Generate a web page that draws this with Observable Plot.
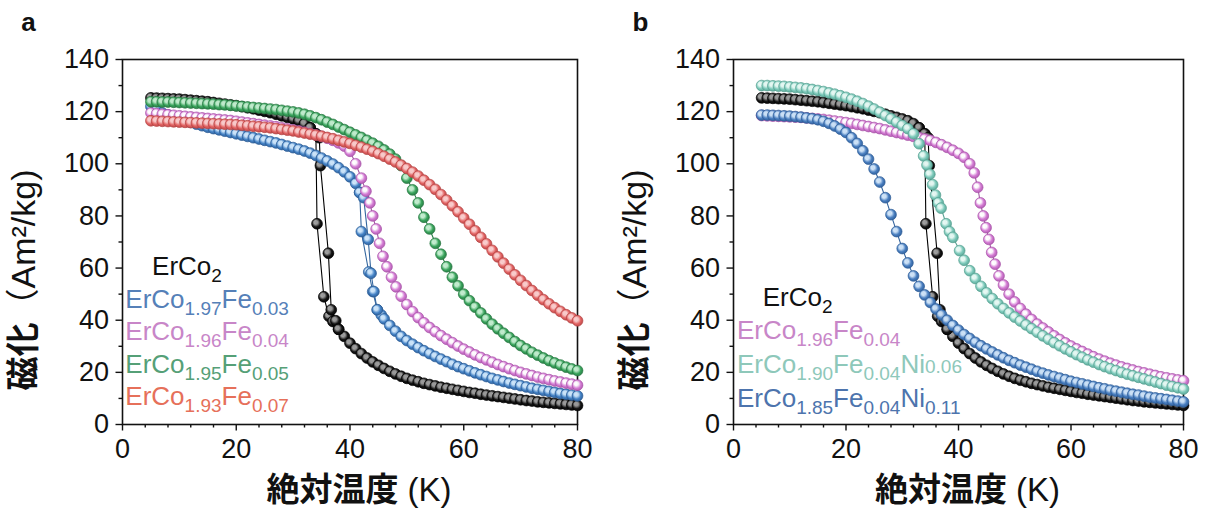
<!DOCTYPE html>
<html>
<head>
<meta charset="utf-8">
<script src="https://cdn.jsdelivr.net/npm/d3@7"></script>
<script src="https://cdn.jsdelivr.net/npm/@observablehq/plot@0.6"></script>
<style>
  html, body { margin: 0; padding: 0; background: #fff; }
  #wrap { position: relative; width: 1211px; height: 509px; overflow: hidden; }
  .panel { position: absolute; top: 0; }
</style>
</head>
<body>
<svg width="0" height="0" style="position:absolute">
  <defs id="grads"></defs>
</svg>
<div id="wrap">
  <div class="panel" id="pa" style="left:0px"></div>
  <div class="panel" id="pb" style="left:604px"></div>
</div>
<script>
// ---------------- data (temperature K, magnetization Am2/kg) ----------------
const xMajor = [0, 20, 40, 60, 80];
const xMinor = [4, 8, 12, 16, 24, 28, 32, 36, 44, 48, 52, 56, 64, 68, 72, 76];
const yMajor = [0, 20, 40, 60, 80, 100, 120, 140];
const yMinor = [10, 30, 50, 70, 90, 110, 130];

const erco2Main = [[5,125.3],[6,125.2],[7,125.1],[8,125.0],[9,124.9],[10,124.8],[11,124.6],[12,124.4],[13,124.2],[14,124.0],[15,123.8],[16,123.5],[17,123.2],[18,122.9],[19,122.6],[20,122.3],[21,121.9],[22,121.5],[23,121.1],[24,120.6],[25,120.1],[26,119.6],[27,119.0],[28,118.4],[29,117.8],[30,117.2],[31,116.5],[32,115.4],[33,113.8],[34,111.5],[34.2,77],[35.4,49],[36.3,41.5],[37,39.5],[38,36.5],[39,33.8],[40,31.2],[41,29.1],[42,27.2],[43,25.5],[44,24],[45,22.7],[46,21.5],[47,20.4],[48,19.4],[49,18.5],[50,17.7],[51,17],[52,16.4],[53,15.8],[54,15.3],[55,14.8],[56,14.3],[57,13.9],[58,13.5],[59,13.1],[60,12.7],[61,12.3],[62,12],[63,11.6],[64,11.3],[65,11],[66,10.7],[67,10.4],[68,10.1],[69,9.8],[70,9.5],[71,9.2],[72,9],[73,8.7],[74,8.5],[75,8.3],[76,8.1],[77,7.9],[78,7.7],[79,7.5],[80,7.3]];
const erco2Warm = [[33,113.8],[34,111.5],[34.6,110],[34.8,99.3],[36.2,65.7],[36.7,44],[37.5,39.8],[38,36.5]];

const fe003Main = [[5,122],[6,120.5],[7,119.5],[8,118.7],[9,118],[10,117.3],[11,116.6],[12,115.9],[13,115.2],[14,114.6],[15,114],[16,113.5],[17,113],[18,112.5],[19,112],[20,111.5],[21,111],[22,110.5],[23,110],[24,109.5],[25,109],[26,108.5],[27,108],[28,107.4],[29,106.8],[30,106.2],[31,105.6],[32,104.9],[33,104.1],[34,103.2],[35,102.2],[36,101.1],[37,99.9],[38,98.5],[39,96.9],[40,95],[41,92.5],[41.7,89],[42,74],[43.3,58.5],[44,51],[44.8,44],[45.5,42],[46,40.5],[47,38],[48,35.8],[49,33.8],[50,32.2],[51,30.8],[52,29.5],[53,28.3],[54,27.2],[55,26.1],[56,25.1],[57,24.1],[58,23.1],[59,22.2],[60,21.4],[61,20.6],[62,19.8],[63,19.1],[64,18.4],[65,17.7],[66,17.1],[67,16.5],[68,15.9],[69,15.4],[70,14.9],[71,14.4],[72,13.9],[73,13.5],[74,13.1],[75,12.7],[76,12.3],[77,11.9],[78,11.6],[79,11.3],[80,11]];
const fe003Warm = [[41.7,89],[42.4,87],[43.2,71],[43.7,58],[44.2,51],[44.8,44]];

const fe004A = [[5,119.5],[6,119.2],[7,119],[8,118.8],[9,118.6],[10,118.4],[11,118.2],[12,118],[13,117.8],[14,117.6],[15,117.4],[16,117.2],[17,117],[18,116.8],[19,116.6],[20,116.3],[21,116],[22,115.7],[23,115.4],[24,115.1],[25,114.8],[26,114.5],[27,114.2],[28,113.8],[29,113.4],[30,113],[31,112.6],[32,112.1],[33,111.6],[34,111.1],[35,110.5],[36,109.8],[37,109],[38,108],[39,106.8],[40,104.8],[41,100],[42,94.5],[42.8,89.5],[43.5,85],[44,80],[44.6,75],[45.2,69.5],[45.8,64.5],[46.5,60.5],[47.3,56.5],[48.1,52.8],[49,49.2],[50,46],[51,43.3],[52,41],[53,39],[54,37.2],[55,35.6],[56,34.1],[57,32.7],[58,31.4],[59,30.1],[60,28.9],[61,27.8],[62,26.7],[63,25.7],[64,24.8],[65,23.9],[66,23],[67,22.2],[68,21.4],[69,20.7],[70,20],[71,19.4],[72,18.8],[73,18.2],[74,17.7],[75,17.2],[76,16.7],[77,16.3],[78,15.9],[79,15.5],[80,15.1]];

const fe005 = [[5,123.8],[6,123.8],[7,123.7],[8,123.7],[9,123.6],[10,123.5],[11,123.4],[12,123.3],[13,123.2],[14,123.1],[15,123],[16,122.9],[17,122.7],[18,122.6],[19,122.4],[20,122.2],[21,122],[22,121.8],[23,121.6],[24,121.4],[25,121.2],[26,121],[27,120.8],[28,120.5],[29,120.2],[30,119.9],[31,119.5],[32,119],[33,118.4],[34,117.7],[35,116.9],[36,116],[37,115.1],[38,114.1],[39,113.1],[40,112.1],[41,111.1],[42,110.1],[43,109],[44,107.9],[45,106.7],[46,105.3],[47,103.7],[48,101.8],[49,99.3],[50,94.5],[51,90],[52,85],[53,79.5],[54,75],[55,69.5],[56,65.3],[57,60.5],[58,56.5],[59,53.2],[60,50],[61,47.5],[62,45],[63,42.8],[64,40.5],[65,38.5],[66,36.7],[67,35],[68,33.4],[69,31.8],[70,30.3],[71,29],[72,27.7],[73,26.6],[74,25.5],[75,24.5],[76,23.6],[77,22.8],[78,22],[79,21.3],[80,20.7]];

const fe007 = [[5,116.5],[6,116.4],[7,116.3],[8,116.2],[9,116.1],[10,116],[11,115.9],[12,115.8],[13,115.7],[14,115.6],[15,115.5],[16,115.4],[17,115.3],[18,115.2],[19,115.1],[20,115],[21,114.8],[22,114.6],[23,114.4],[24,114.2],[25,114],[26,113.8],[27,113.5],[28,113.2],[29,112.9],[30,112.6],[31,112.2],[32,111.8],[33,111.4],[34,111],[35,110.6],[36,110.1],[37,109.6],[38,109],[39,108.4],[40,107.8],[41,107.1],[42,106.4],[43,105.6],[44,104.8],[45,103.9],[46,102.9],[47,101.8],[48,100.7],[49,99.5],[50,98.2],[51,96.8],[52,95.3],[53,93.7],[54,92],[55,90.2],[56,88.2],[57,86.1],[58,83.9],[59,81.6],[60,79.2],[61,76.8],[62,74.3],[63,71.8],[64,69.3],[65,66.8],[66,64.3],[67,61.9],[68,59.6],[69,57.4],[70,55.3],[71,53.3],[72,51.4],[73,49.6],[74,47.9],[75,46.3],[76,44.8],[77,43.4],[78,42.1],[79,40.9],[80,39.8]];

const fe004B = [[5,118.5],[6,118.4],[7,118.3],[8,118.2],[9,118.1],[10,118],[11,117.9],[12,117.8],[13,117.6],[14,117.4],[15,117.2],[16,117],[17,116.7],[18,116.4],[19,116.1],[20,115.8],[21,115.5],[22,115.1],[23,114.7],[24,114.3],[25,113.9],[26,113.5],[27,113],[28,112.5],[29,112],[30,111.5],[31,111],[32,110.5],[33,110],[34,109.5],[35,109],[36,108.2],[37,107.3],[38,106.3],[39,105.2],[40,104],[41,102.5],[42,100],[42.8,96.5],[43.4,91],[43.9,85],[44.4,80],[44.9,75.5],[45.4,71],[45.9,66],[46.5,61.5],[47.2,57],[48,53.5],[49,50],[50,47],[51,44.5],[52,42.3],[53,40.3],[54,38.5],[55,37],[56,35.5],[57,34],[58,32.6],[59,31.3],[60,30.1],[61,29],[62,28],[63,27],[64,26],[65,25.1],[66,24.3],[67,23.5],[68,22.8],[69,22.1],[70,21.5],[71,20.9],[72,20.3],[73,19.8],[74,19.3],[75,18.8],[76,18.3],[77,17.9],[78,17.5],[79,17.1],[80,16.8]];

const ni006 = [[5,130],[6,130],[7,129.9],[8,129.8],[9,129.7],[10,129.5],[11,129.3],[12,129.1],[13,128.8],[14,128.5],[15,128.1],[16,127.7],[17,127.2],[18,126.7],[19,126.1],[20,125.5],[21,124.8],[22,124],[23,123.1],[24,122.1],[25,121],[26,119.8],[27,118.5],[28,117.3],[29,116],[30,114.7],[31,113.5],[32,111.5],[33,107.7],[33.8,103],[34.4,99.5],[34.9,96],[35.4,92],[35.9,88],[36.4,85],[36.9,83],[37.8,77],[38.4,74],[39,71.8],[40.2,66.7],[41,63],[42,59],[43,56],[44,53],[45,50.5],[46,48.3],[47,46.3],[48,44.5],[49,42.8],[50,41.2],[51,39.7],[52,38.2],[53,36.8],[54,35.4],[55,34],[56,32.7],[57,31.4],[58,30.2],[59,29],[60,27.9],[61,26.8],[62,25.8],[63,24.8],[64,23.9],[65,23],[66,22.2],[67,21.4],[68,20.7],[69,20],[70,19.3],[71,18.7],[72,18.1],[73,17.5],[74,16.9],[75,16.3],[76,15.7],[77,15.1],[78,14.6],[79,14.1],[80,13.6]];

const ni011 = [[5,118.7],[6,118.7],[7,118.6],[8,118.5],[9,118.4],[10,118.3],[11,118.1],[12,117.9],[13,117.6],[14,117.3],[15,116.9],[16,116.3],[17,115.5],[18,114.5],[19,113.3],[20,112],[21,110],[22,107.8],[23,105],[24,101.8],[25,98],[26,93],[27,87],[28,80.5],[29,74],[30,67.5],[31,62],[32,57],[33,53],[34,49.7],[35,46.8],[36,44.3],[37,42],[38,40],[39,38],[40,36.2],[41,34.5],[42,33],[43,31.5],[44,30.2],[45,29],[46,27.8],[47,26.7],[48,25.6],[49,24.6],[50,23.7],[51,22.8],[52,22],[53,21.2],[54,20.4],[55,19.7],[56,19],[57,18.4],[58,17.8],[59,17.2],[60,16.6],[61,16.1],[62,15.6],[63,15.1],[64,14.6],[65,14.1],[66,13.7],[67,13.2],[68,12.8],[69,12.4],[70,12],[71,11.6],[72,11.3],[73,10.9],[74,10.5],[75,10.2],[76,9.9],[77,9.6],[78,9.3],[79,9],[80,8.7]];

const legendA = ["ErCo_{2}", "ErCo_{1.97}Fe_{0.03}", "ErCo_{1.96}Fe_{0.04}", "ErCo_{1.95}Fe_{0.05}", "ErCo_{1.93}Fe_{0.07}"];
const legendB = ["ErCo_{2}", "ErCo_{1.96}Fe_{0.04}", "ErCo_{1.90}Fe_{0.04}Ni~{0.06}", "ErCo_{1.85}Fe_{0.04}Ni_{0.11}"];
const xTitle = "**絶対温度** (K)";
const yTitle = "**磁化**（Am²/kg)";

// ---------------- styles ----------------
const palette = {
  black: {base: "#161616", hi: "#9c9c9c", edge: "#000000", line: "#000000", text: "#111111"},
  blue:  {base: "#4583c6", hi: "#cde5fa", edge: "#2a5a94", line: "#35679f", text: "#5580b8"},
  pink:  {base: "#d47cd4", hi: "#ffffff", edge: "#a955a9", line: "#a458a4", text: "#c886c8"},
  green: {base: "#3aa55d", hi: "#c2ecce", edge: "#267540", line: "#2a7f47", text: "#55a077"},
  red:   {base: "#e26363", hi: "#f9cccc", edge: "#b44444", line: "#c04c4c", text: "#e6705a"},
  teal:  {base: "#7cc9ba", hi: "#e6f8f3", edge: "#56a091", line: "#5aa293", text: "#8ec8ba"},
  blue2: {base: "#4a7fc0", hi: "#cde2f7", edge: "#2c5b96", line: "#33639c", text: "#4d74ad"}
};
const defs = document.getElementById("grads");
for (const [k, c] of Object.entries(palette)) {
  defs.insertAdjacentHTML("beforeend",
    `<radialGradient id="g-${k}" cx="0.45" cy="0.45" r="0.62" fx="0.36" fy="0.34">
       <stop offset="0" stop-color="${c.hi}"/>
       <stop offset="0.28" stop-color="${c.hi}" stop-opacity="0.95"/>
       <stop offset="0.62" stop-color="${c.base}"/>
       <stop offset="1" stop-color="${c.edge}"/>
     </radialGradient>`);
}

const FONT = "'Liberation Sans', Arial, 'Noto Sans CJK JP', sans-serif";
const LEG = 26, SUB = 19, SUBDY = 7;

function seriesMarks(data, key) {
  const c = palette[key];
  return [
    Plot.line(data, {x: d => d[0], y: d => d[1], stroke: c.line, strokeWidth: 1.1}),
    Plot.dot(data, {x: d => d[0], y: d => d[1], r: 5.4, fill: `url(#g-${key})`, stroke: c.edge, strokeWidth: 0.7})
  ];
}

function rich(svg) {
  d3.select(svg).selectAll("text").each(function() {
    const s = this.textContent;
    if (!/(_\{|~\{|\*\*)/.test(s)) return;
    const parts = s.split(/(_\{[^}]*\}|~\{[^}]*\}|\*\*[^*]+\*\*)/).filter(p => p !== "");
    const el = d3.select(this);
    el.text(null);
    let cur = 0;
    for (const p of parts) {
      let txt = p, size = null, off = 0, weight = null;
      if (p.startsWith("_{")) { txt = p.slice(2, -1); size = SUB; off = SUBDY; }
      else if (p.startsWith("~{")) { txt = p.slice(2, -1); size = SUB; off = 0; }
      else if (p.startsWith("**")) { txt = p.slice(2, -2); weight = "bold"; }
      const t = el.append("tspan").text(txt);
      if (size) t.attr("font-size", size);
      if (weight) t.attr("font-weight", weight);
      if (off !== cur) { t.attr("dy", off - cur); cur = off; }
    }
  });
}

function panel(opts) {
  const svg = Plot.plot({
    width: 607, height: 509,
    marginLeft: opts.ml, marginRight: opts.mr, marginTop: 59, marginBottom: 85,
    x: {domain: [0, 80]},
    y: {domain: [0, 140]},
    style: {fontFamily: FONT, fontSize: "27px", color: "#111", background: "transparent", overflow: "visible"},
    marks: [
      Plot.axisX({ticks: xMinor, tickSize: 3.5, tickFormat: () => "", label: null, strokeWidth: 1.4}),
      Plot.axisY({ticks: yMinor, tickSize: 3.5, tickFormat: () => "", label: null, strokeWidth: 1.4}),
      Plot.axisX({ticks: xMajor, tickSize: 6.5, tickPadding: 8, fontSize: 27, label: null, strokeWidth: 1.4}),
      Plot.axisY({ticks: yMajor, tickSize: 6.5, tickPadding: 7, fontSize: 27, label: null, strokeWidth: 1.4}),
      Plot.frame({stroke: "#111", strokeWidth: 1.6}),
      ...opts.series.flatMap(([data, key]) => seriesMarks(data, key)),
      Plot.text(opts.legend, {
        x: (d, i) => i === 0 ? opts.legX0 : opts.legX,
        y: (d, i) => opts.legY - i * opts.legStep,
        text: d => d, textAnchor: "start", lineAnchor: "middle", fontSize: LEG,
        fill: (d, i) => palette[opts.legColors[i]].text
      }),
      Plot.text([xTitle], {frameAnchor: "bottom", textAnchor: "middle", lineAnchor: "middle",
        dx: 9, dy: 66, fontSize: 33, fill: "#111"}),
      Plot.text([yTitle], {frameAnchor: "left", textAnchor: "middle", lineAnchor: "middle",
        rotate: -90, dx: -98, dy: 38, fontSize: 34, fill: "#111"}),
      Plot.text([opts.letter], {frameAnchor: "top-left", textAnchor: "middle", lineAnchor: "middle",
        dx: opts.letterDx, dy: -37, fontSize: 26, fontWeight: "bold", fill: "#111"})
    ]
  });
  rich(svg);
  return svg;
}

document.getElementById("pa").append(panel({
  ml: 122, mr: 30, letter: "a", letterDx: -94,
  series: [[erco2Main, "black"], [erco2Warm, "black"], [fe003Main, "blue"], [fe003Warm, "blue"],
           [fe004A, "pink"], [fe005, "green"], [fe007, "red"]],
  legend: legendA, legColors: ["black", "blue", "pink", "green", "red"],
  legX0: 5.2, legX: 0.5, legY: 60.5, legStep: 12.5
}));
document.getElementById("pb").append(panel({
  ml: 129, mr: 28, letter: "b", letterDx: -93,
  series: [[erco2Main, "black"], [erco2Warm, "black"], [fe004B, "pink"], [ni006, "teal"], [ni011, "blue2"]],
  legend: legendB, legColors: ["black", "pink", "teal", "blue2"],
  legX0: 5.2, legX: 0.6, legY: 48.7, legStep: 12.9
}));
</script>
</body>
</html>
